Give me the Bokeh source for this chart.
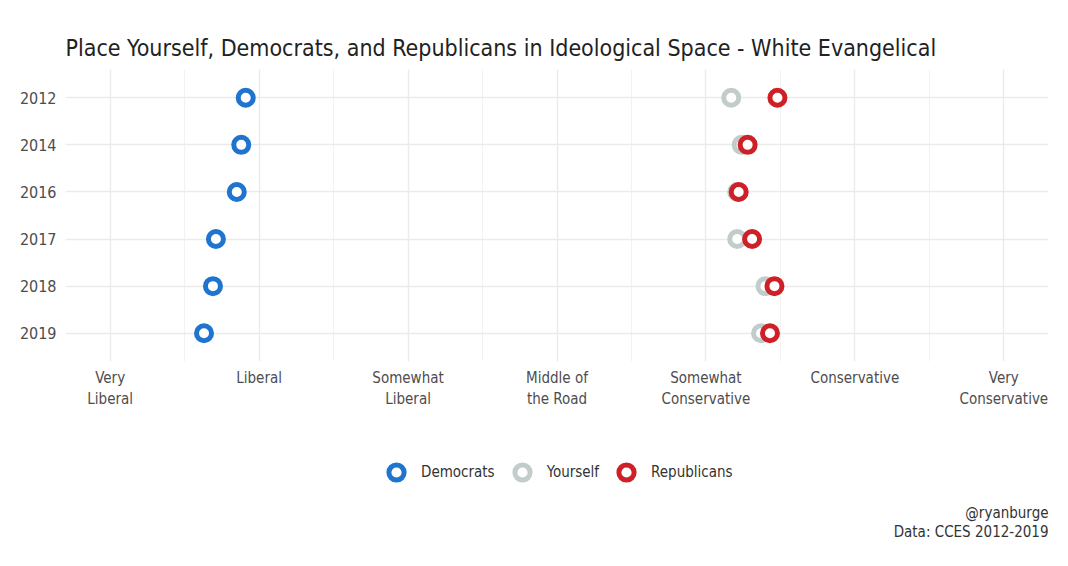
from bokeh.plotting import figure
from bokeh.models import Range1d, FixedTicker, Legend, LegendItem, Label
from bokeh.layouts import column
from bokeh.embed import file_html
from bokeh.resources import INLINE

years = ["2012", "2014", "2016", "2017", "2018", "2019"]
democrats = [1.91, 1.88, 1.85, 1.71, 1.69, 1.63]
yourself = [5.17, 5.24, 5.21, 5.21, 5.40, 5.37]
republicans = [5.48, 5.28, 5.22, 5.31, 5.46, 5.43]
scale_labels = ["Very\nLiberal", "Liberal", "Somewhat\nLiberal", "Middle of\nthe Road",
                "Somewhat\nConservative", "Conservative", "Very\nConservative"]
title_text = "Place Yourself, Democrats, and Republicans in Ideological Space - White Evangelical"
caption_lines = ["@ryanburge", "Data: CCES 2012-2019"]
series_names = ["Democrats", "Yourself", "Republicans"]
series_colors = ["#1f74d0", "#c2cccb", "#d02027"]

FONT = "DejaVu Sans Condensed"
GREY = "#4d4d4d"

ypos = list(range(1, len(years) + 1))
series_values = [democrats, yourself, republicans]

p = figure(width=1052, height=421, output_backend="svg", toolbar_location=None,
           x_range=Range1d(0.7, 7.3), y_range=Range1d(len(years) + 0.6, 0.4),
           min_border_left=65, min_border_right=4, min_border_top=69, min_border_bottom=60)
p.outline_line_color = None
p.background_fill_color = "white"
p.border_fill_color = "white"

p.title.text = title_text
p.title.text_font = FONT
p.title.text_font_size = "23px"
p.title.text_font_style = "normal"
p.title.text_color = "#222222"
p.title.align = "left"
p.title.standoff = 17

ticks = list(range(1, 8))
p.xaxis.ticker = FixedTicker(ticks=ticks, minor_ticks=[t + 0.5 for t in ticks[:-1]])
p.xaxis.major_label_overrides = {t: lab for t, lab in zip(ticks, scale_labels)}
p.yaxis.ticker = FixedTicker(ticks=ypos)
p.yaxis.major_label_overrides = {y: lab for y, lab in zip(ypos, years)}

for ax in (p.xaxis, p.yaxis):
    ax.axis_line_color = None
    ax.major_tick_line_color = None
    ax.minor_tick_line_color = None
    ax.major_label_text_font = FONT
    ax.major_label_text_color = GREY
    ax.major_label_text_font_size = "15px"
p.yaxis.major_label_text_font_size = "16px"
p.xaxis.major_label_standoff = 1
p.yaxis.major_label_standoff = 3

p.xgrid.grid_line_color = "#ebebeb"
p.xgrid.grid_line_width = 1.4
p.xgrid.minor_grid_line_color = "#f2f2f2"
p.xgrid.minor_grid_line_width = 1
p.ygrid.grid_line_color = "#ebebeb"
p.ygrid.grid_line_width = 1.4

for vals, col in zip(series_values, series_colors):
    p.scatter(vals, ypos, marker="circle", size=15, fill_color="white",
              line_color=col, line_width=5)

# legend + caption strip (frame is aligned with the main plot's frame)
p2 = figure(width=1052, height=145, output_backend="svg", toolbar_location=None,
            x_range=Range1d(0, 1), y_range=Range1d(0, 1),
            x_axis_type=None, y_axis_type=None,
            min_border_left=65, min_border_right=4, min_border_top=0, min_border_bottom=0)
p2.outline_line_color = None
p2.grid.visible = False
p2.background_fill_color = "white"
p2.border_fill_color = "white"

items = []
for name, vals, col in zip(series_names, series_values, series_colors):
    r = p2.scatter(vals, ypos, marker="circle", size=15, fill_color="white",
                   line_color=col, line_width=5, visible=False)
    items.append(LegendItem(label=name, renderers=[r]))

legend = Legend(items=items, orientation="horizontal", location=(312, 75),
                label_text_font=FONT, label_text_font_size="15px",
                label_text_color="#333333", border_line_color=None,
                background_fill_alpha=0, glyph_width=38, glyph_height=38,
                label_standoff=6, spacing=8, margin=0, padding=0)
p2.add_layout(legend, "center")

for i, line in enumerate(caption_lines):
    p2.add_layout(Label(x=983, y=54 - 19 * i, x_units="screen", y_units="screen",
                        text=line, text_align="right", text_baseline="middle",
                        text_font=FONT, text_font_size="15px", text_color="#333333"))

open("out.html", "w").write(file_html(column(p, p2, spacing=0), INLINE))
